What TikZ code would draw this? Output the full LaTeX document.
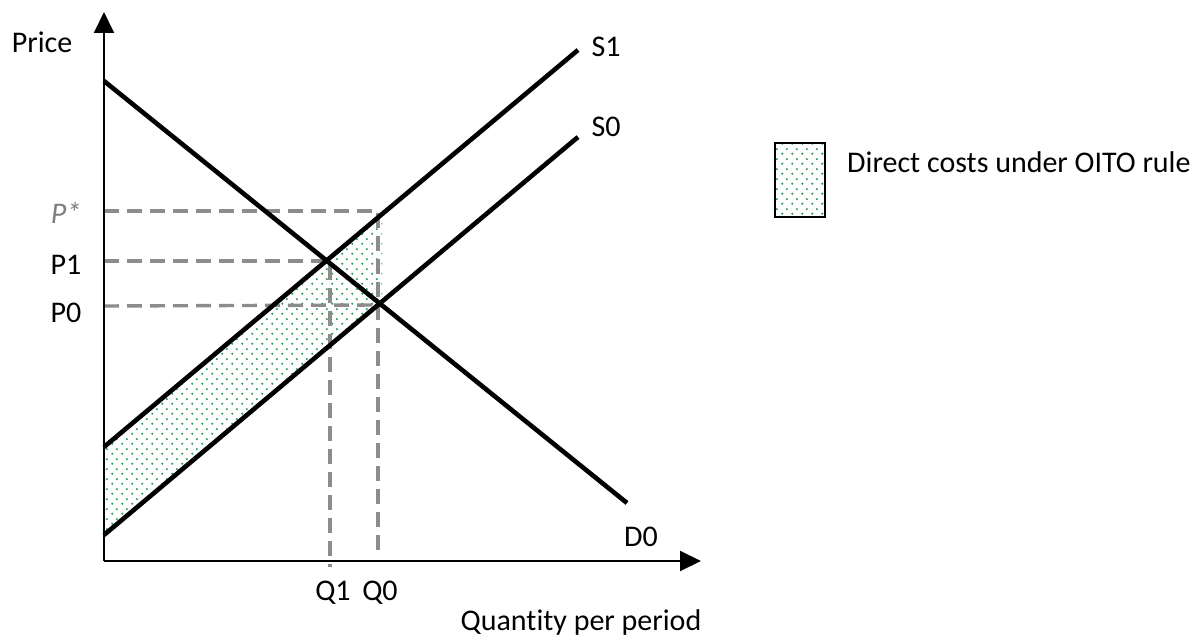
\documentclass[tikz,border=0pt]{standalone}
\usepackage{fontspec}
\setmainfont{Carlito}[Ligatures=NoCommon]
\usetikzlibrary{arrows.meta,patterns.meta}
\definecolor{dashgray}{HTML}{8C8C8C}
\definecolor{dotgreen}{HTML}{2A9458}
\definecolor{labelgray}{HTML}{7F7F7F}
\tikzdeclarepattern{
  name=greendots,
  type=uncolored,
  bounding box={(0pt,0pt) and (10pt,10pt)},
  tile size={(10pt,10pt)},
  code={
    \fill (2.5pt,2.5pt) circle (1.25pt);
    \fill (7.5pt,7.5pt) circle (1.25pt);
  }
}
\begin{document}
\begin{tikzpicture}[x=1pt,y=-1pt,
  font=\fontsize{30}{36}\selectfont,
  axisline/.style={line width=2pt,-{Triangle[length=21pt,width=20pt]}},
  curve/.style={line width=4.6pt},
  guide/.style={dashgray,line width=3.4pt,dash pattern=on 15pt off 8pt},
  shade/.style={pattern=greendots,pattern color=dotgreen},
  lbl/.style={anchor=base,inner sep=0pt}
]
\useasboundingbox (0,0) rectangle (1203,636);
% coordinates
\coordinate (O) at (104,561);
\coordinate (ytip) at (104,12);
\coordinate (xtip) at (701,561);
\coordinate (d0a) at (104,81);
\coordinate (d0b) at (627,503);
\coordinate (s1a) at (104,447);
\coordinate (s1b) at (578,50);
\coordinate (s0a) at (104,535);
\coordinate (s0b) at (578,137);
\coordinate (e1) at (330,261);
\coordinate (e0) at (378,305);
\coordinate (pstar) at (104,211);
\coordinate (pstarq) at (378,211);
\coordinate (p1y) at (104,261);
\coordinate (p0y) at (104,306);
\coordinate (q1b) at (330,567);
\coordinate (q0b) at (378,553);
\coordinate (sh1) at (382,214.1);
\coordinate (sh2) at (382,302);
% shaded area
\fill[shade] (s1a) -- (sh1) -- (sh2) -- (s0a) -- cycle;
% dashed guides
\draw[guide] (pstar) -- (pstarq) -- (q0b);
\draw[guide] (p1y) -- (e1) -- (q1b);
\draw[guide] (p0y) -- (e0);
% curves
\draw[curve] (d0a) -- (d0b);
\draw[curve] (s1a) -- (s1b);
\draw[curve] (s0a) -- (s0b);
% axes
\draw[axisline] (O) -- (ytip);
\draw[axisline] (O) -- (xtip);
% labels
\node[lbl] (price) at (42,53) {Price};
\node[lbl,labelgray] (pst) at (66,224) {\itshape P*};
\node[lbl] (p1) at (66,275) {P1};
\node[lbl] (p0) at (66,323) {P0};
\node[lbl] (s1) at (606,57) {S1};
\node[lbl] (s0) at (606,137) {S0};
\node[lbl] (d0) at (641,546) {D0};
\node[lbl] (q1) at (333,600) {Q1};
\node[lbl] (q0) at (380,600) {Q0};
\node[lbl] (qty) at (581,630) {Quantity per period};
% legend
\fill[shade] (775,143) rectangle (825,217);
\draw[line width=2pt] (775,143) rectangle (825,217);
\node[anchor=base west,inner sep=0pt] (leg) at (847,173) {Direct costs under OITO rule};
\end{tikzpicture}
\end{document}
